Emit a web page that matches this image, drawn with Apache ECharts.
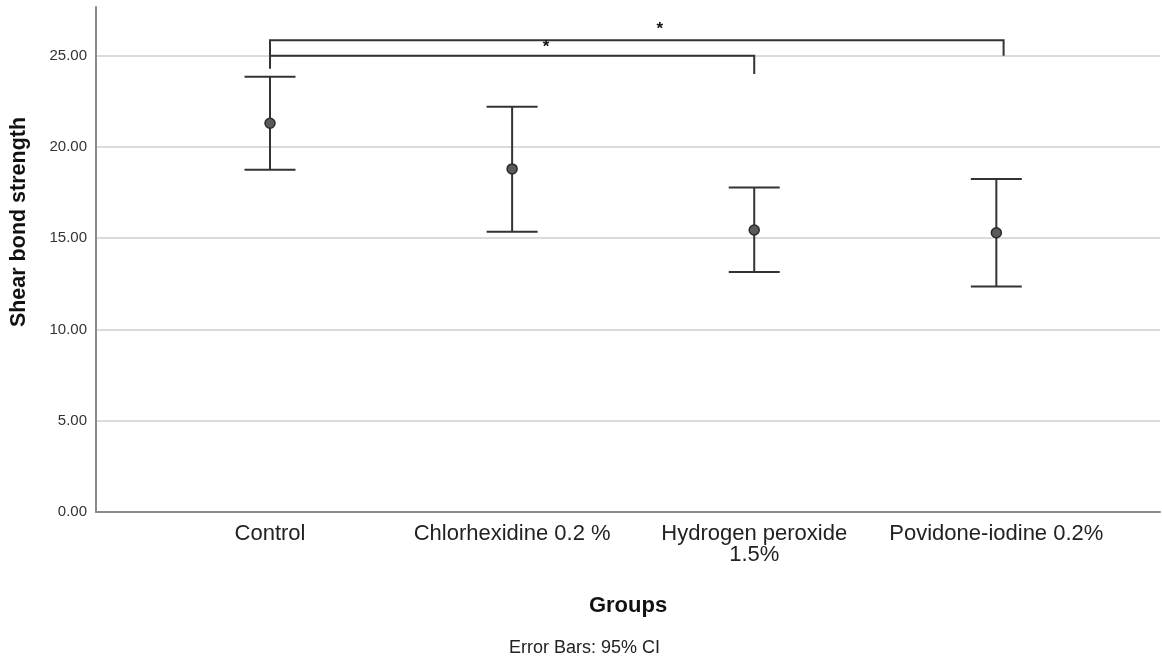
<!DOCTYPE html>
<html>
<head>
<meta charset="utf-8">
<script src="https://cdn.jsdelivr.net/npm/echarts@6/dist/echarts.min.js"></script>
<style>
  html, body { margin: 0; padding: 0; background: #fff; }
  #chart { width: 1162px; height: 659px; }
</style>
</head>
<body>
<div id="chart"></div>
<script>
// groups on the x axis, placed at positions 1..4
const categories = ['Control', 'Chlorhexidine 0.2 %', 'Hydrogen peroxide 1.5%', 'Povidone-iodine 0.2%'];
const tickLabels = ['Control', 'Chlorhexidine 0.2 %', 'Hydrogen peroxide\n1.5%', 'Povidone-iodine 0.2%'];
const positions = [1, 2, 3, 4];
const yTicks = [0, 5, 10, 15, 20, 25];

// mean and 95% CI of shear bond strength
const means = [21.3, 18.8, 15.45, 15.3];
const ciLower = [18.75, 15.35, 13.15, 12.35];
const ciUpper = [23.85, 22.2, 17.78, 18.25];

// significance brackets (x from, x to, bar height, left leg end, right leg end)
const bracketFrom = [1, 1];
const bracketTo = [4.03, 3];
const bracketTop = [25.85, 25.0];
const legLeftEnd = [24.3, 24.3];
const legRightEnd = [25.0, 24.0];
const starX = [2.61, 2.14];
const starY = [26.45, 25.45];

const chart = echarts.init(document.getElementById('chart'));

const errData = positions.map((p, i) => [p, ciLower[i], ciUpper[i]]);
const meanData = positions.map((p, i) => [p, means[i]]);
const bracketData = bracketFrom.map((f, i) => [f, bracketTo[i], bracketTop[i], legLeftEnd[i], legRightEnd[i]]);
const starData = starX.map((x, i) => [x, starY[i]]);

const lineCol = '#333';
const font = 'Arial, "Liberation Sans", sans-serif';

const option = {
  animation: false,
  backgroundColor: '#fff',
  grid: { left: 96, right: 2, top: 7, bottom: 147 },
  xAxis: {
    type: 'value',
    min: 0.2813,
    max: 4.676,
    name: 'Groups',
    nameLocation: 'middle',
    nameGap: 83,
    nameTextStyle: { fontFamily: font, fontSize: 22, fontWeight: 'bold', color: '#111' },
    axisLine: { show: true, lineStyle: { color: '#8a8a8a', width: 2 } },
    axisTick: { show: false },
    splitLine: { show: false },
    axisLabel: {
      customValues: positions,
      margin: 11,
      fontFamily: font,
      fontSize: 22,
      lineHeight: 21,
      color: '#222',
      formatter: v => tickLabels[positions.indexOf(Math.round(v))] || ''
    }
  },
  yAxis: {
    type: 'value',
    min: 0,
    max: 27.67,
    interval: 5,
    axisLine: { show: true, lineStyle: { color: '#8a8a8a', width: 2 } },
    axisTick: { show: false },
    splitLine: { show: true, showMaxLine: false, lineStyle: { color: '#cfcfcf', width: 1.5 } },
    axisLabel: {
      customValues: yTicks,
      margin: 9,
      fontFamily: font,
      fontSize: 15,
      color: '#333',
      formatter: v => v.toFixed(2)
    }
  },
  series: [
    {
      type: 'custom',
      name: 'CI',
      data: errData,
      renderItem: (params, api) => {
        const x = api.value(0);
        const lo = api.coord([x, api.value(1)]);
        const hi = api.coord([x, api.value(2)]);
        const w = 25.5;
        const st = { stroke: lineCol, lineWidth: 2, fill: null };
        return {
          type: 'group',
          children: [
            { type: 'line', shape: { x1: lo[0], y1: lo[1], x2: hi[0], y2: hi[1] }, style: st },
            { type: 'line', shape: { x1: hi[0] - w, y1: hi[1], x2: hi[0] + w, y2: hi[1] }, style: st },
            { type: 'line', shape: { x1: lo[0] - w, y1: lo[1], x2: lo[0] + w, y2: lo[1] }, style: st }
          ]
        };
      },
      z: 3
    },
    {
      type: 'scatter',
      name: 'Mean',
      data: meanData,
      symbol: 'circle',
      symbolSize: 10,
      itemStyle: { color: '#5a5a5a', borderColor: '#2a2a2a', borderWidth: 1.5, opacity: 1 },
      z: 4
    },
    {
      type: 'custom',
      name: 'brackets',
      data: bracketData,
      renderItem: (params, api) => {
        const a = api.coord([api.value(0), api.value(3)]);
        const b = api.coord([api.value(0), api.value(2)]);
        const c = api.coord([api.value(1), api.value(2)]);
        const d = api.coord([api.value(1), api.value(4)]);
        return {
          type: 'polyline',
          shape: { points: [a, b, c, d] },
          style: { stroke: lineCol, lineWidth: 2, fill: null }
        };
      },
      z: 3
    },
    {
      type: 'custom',
      name: 'stars',
      data: starData,
      renderItem: (params, api) => {
        const p = api.coord([api.value(0), api.value(1)]);
        return {
          type: 'text',
          x: p[0],
          y: p[1],
          style: {
            text: '*',
            align: 'center',
            verticalAlign: 'middle',
            font: 'bold 17px ' + font,
            fill: '#111'
          }
        };
      },
      z: 5
    }
  ],
  graphic: [
    {
      type: 'text',
      x: 19,
      y: 222,
      rotation: Math.PI / 2,
      style: {
        text: 'Shear bond strength',
        font: 'bold 21.5px ' + font,
        fill: '#111',
        align: 'center',
        verticalAlign: 'middle'
      }
    },
    {
      type: 'text',
      x: 660,
      y: 648,
      style: {
        text: 'Error Bars: 95% CI',
        font: '18px ' + font,
        fill: '#222',
        align: 'right',
        verticalAlign: 'middle'
      }
    }
  ]
};

chart.setOption(option);
</script>
</body>
</html>
